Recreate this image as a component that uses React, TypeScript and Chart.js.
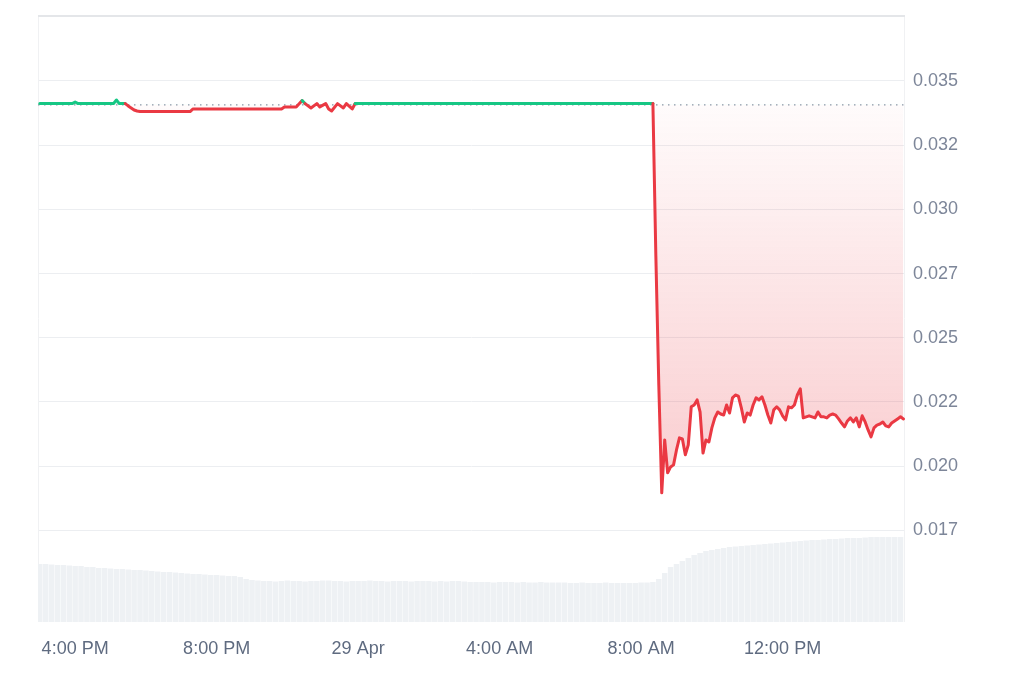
import { useEffect, useRef } from "react";
import { Chart, registerables } from "chart.js";

Chart.register(...registerables);

const GREEN = "#16c784";
const RED = "#ea3943";
const BASE_PRICE = 0.03407;
const FILL_STRONG_PRICE = 0.0215;

// price points (local time, 28 Apr 15:00 -> 29 Apr 15:25)
const priceTimes = [
  "15:00", "15:55", "16:00", "16:05", "17:05", "17:10", "17:15", "17:25", "17:30", "17:35",
  "17:40", "17:45", "17:50", "19:15", "19:20", "21:50", "21:55", "22:15", "22:25", "22:30",
  "22:40", "22:50", "22:55", "23:05", "23:10", "23:15", "23:25", "23:35", "23:40", "23:50",
  "23:55", "08:20", "08:25", "08:30", "08:35", "08:40", "08:45", "08:50", "08:55", "09:00",
  "09:05", "09:10", "09:15", "09:20", "09:25", "09:30", "09:35", "09:40", "09:45", "09:50",
  "09:55", "10:00", "10:05", "10:10", "10:15", "10:20", "10:25", "10:30", "10:35", "10:40",
  "10:45", "10:50", "10:55", "11:00", "11:05", "11:10", "11:15", "11:20", "11:25", "11:30",
  "11:35", "11:40", "11:45", "11:50", "11:55", "12:00", "12:05", "12:10", "12:15", "12:20",
  "12:25", "12:30", "12:35", "12:40", "12:45", "12:50", "12:55", "13:00", "13:05", "13:10",
  "13:15", "13:20", "13:25", "13:30", "13:35", "13:40", "13:45", "13:50", "13:55", "14:00",
  "14:05", "14:10", "14:15", "14:20", "14:25", "14:30", "14:35", "14:40", "14:45", "14:50",
  "14:55", "15:00", "15:05", "15:10", "15:15", "15:20", "15:25",
];
const priceValues = [
  0.03412, 0.03412, 0.03418, 0.03412, 0.03412, 0.03426, 0.03412, 0.03412, 0.03403, 0.03395,
  0.03387, 0.03383, 0.03381, 0.03381, 0.03391, 0.03391, 0.03399, 0.03399, 0.03424, 0.03412,
  0.03395, 0.03412, 0.03399, 0.03412, 0.03391, 0.03383, 0.03412, 0.03395, 0.03412, 0.03391,
  0.03412, 0.03412, 0.02819, 0.02316, 0.01896, 0.02102, 0.01974, 0.01997, 0.02005, 0.02063,
  0.0211, 0.02106, 0.02044, 0.02083, 0.02231, 0.02238, 0.02258, 0.02211, 0.02051, 0.02102,
  0.02094, 0.02149, 0.02188, 0.02211, 0.02203, 0.02199, 0.02238, 0.02207, 0.02266, 0.02277,
  0.02273, 0.02227, 0.02172, 0.02207, 0.02199, 0.02238, 0.02266, 0.02258, 0.0227, 0.02238,
  0.02199, 0.02168, 0.02219, 0.02231, 0.02219, 0.02196, 0.0218, 0.02231, 0.02227, 0.02238,
  0.02277, 0.02301, 0.02188, 0.02192, 0.02196, 0.02192, 0.02188, 0.02211, 0.02192, 0.02192,
  0.02188, 0.02199, 0.02203, 0.02199, 0.02184, 0.02168, 0.02153, 0.02176, 0.02188, 0.02172,
  0.02188, 0.02153, 0.02196, 0.02172, 0.02141, 0.02114, 0.02149, 0.0216, 0.02164, 0.02172,
  0.02157, 0.02153, 0.02168, 0.02176, 0.02184, 0.02192, 0.02184,
];

// volume, one bar every 10 minutes from 15:00 (millions)
const volumeStart = "15:00";
const volumeStepMinutes = 10;
const volumeValues = [
  5.8, 5.8, 5.75, 5.7, 5.7, 5.65, 5.6, 5.6, 5.5, 5.5, 5.4, 5.4, 5.35, 5.3, 5.3, 5.25, 5.2, 5.2, 5.15, 5.1,
  5.05, 5.0, 5.0, 4.95, 4.9, 4.85, 4.8, 4.8, 4.75, 4.7, 4.7, 4.65, 4.6, 4.6, 4.5, 4.3, 4.2, 4.15,
  4.1, 4.1, 4.05, 4.1, 4.15, 4.1, 4.1, 4.05, 4.1, 4.1, 4.15, 4.15, 4.1, 4.1, 4.05, 4.1, 4.1, 4.1, 4.15, 4.1,
  4.1, 4.05, 4.1, 4.1, 4.1, 4.05, 4.1, 4.1, 4.1, 4.05, 4.1, 4.05, 4.1, 4.1, 4.05, 4.0, 4.0,
  4.0, 4.0, 3.95, 4.0, 4.0, 4.0, 3.95, 4.0, 3.95, 3.95, 4.0, 3.95, 3.95, 3.95,
  3.95, 3.9, 3.9, 3.95, 3.9, 3.9, 3.9, 3.95, 3.9, 3.9, 3.9, 3.9, 3.9, 3.95, 3.95,
  4.0, 4.3, 4.9, 5.5, 5.8, 6.1, 6.4, 6.7, 6.9, 7.1, 7.2, 7.3, 7.4, 7.5, 7.55, 7.6, 7.65, 7.7, 7.75, 7.8,
  7.85, 7.9, 7.95, 8.0, 8.05, 8.1, 8.15, 8.2, 8.2, 8.25, 8.3, 8.3, 8.35, 8.4, 8.4, 8.4, 8.45, 8.5, 8.5, 8.5,
  8.5, 8.5, 8.5,
];
const VOLUME_AXIS_MAX = 60.7;

const yTickValues = [0.0175, 0.02, 0.0225, 0.025, 0.0275, 0.03, 0.0325, 0.035];
const Y_MIN = 0.01393;
const Y_MAX = 0.03757;

const xTickHours = [16, 20, 24, 28, 32, 36];
const xTickLabels = ["4:00 PM", "8:00 PM", "29 Apr", "4:00 AM", "8:00 AM", "12:00 PM"];
const X_MIN = 14.95;
const X_MAX = 39.46;

function parseHM(t: string): number {
  const [h, m] = t.split(":").map(Number);
  return h + m / 60;
}

function toHours(times: string[]): number[] {
  let offset = 0;
  let prev = -Infinity;
  return times.map((t) => {
    let v = parseHM(t) + offset;
    if (v < prev) {
      offset += 24;
      v += 24;
    }
    prev = v;
    return v;
  });
}

const framePlugin = {
  id: "frame",
  beforeDatasetsDraw(chart: any) {
    const { ctx, chartArea: a, scales } = chart;
    ctx.save();
    ctx.strokeStyle = "#f0f1f3";
    ctx.lineWidth = 1;
    ctx.beginPath();
    ctx.moveTo(a.left + 0.5, a.top);
    ctx.lineTo(a.left + 0.5, a.bottom);
    ctx.moveTo(a.right - 0.5, a.top);
    ctx.lineTo(a.right - 0.5, a.bottom);
    ctx.stroke();
    ctx.strokeStyle = "#e4e6e9";
    ctx.lineWidth = 2;
    ctx.beginPath();
    ctx.moveTo(a.left, a.top + 1);
    ctx.lineTo(a.right, a.top + 1);
    ctx.stroke();
    const y = scales.y.getPixelForValue(BASE_PRICE);
    ctx.strokeStyle = "#8f98a8";
    ctx.lineWidth = 1.2;
    ctx.setLineDash([1.5, 4.5]);
    ctx.beginPath();
    ctx.moveTo(a.left, y);
    ctx.lineTo(a.right, y);
    ctx.stroke();
    ctx.restore();
  },
};

export default function App() {
  const canvasRef = useRef<HTMLCanvasElement | null>(null);

  useEffect(() => {
    if (!canvasRef.current) return;
    Chart.defaults.font.family = "'Liberation Sans', Arial, Helvetica, sans-serif";

    const priceHours = toHours(priceTimes);
    const lineData = priceValues.map((v, i) => ({ x: priceHours[i], y: v }));
    const vStart = parseHM(volumeStart);
    const barData = volumeValues.map((v, i) => ({ x: vStart + (i * volumeStepMinutes) / 60, y: v }));

    const chart = new Chart(canvasRef.current, {
      type: "line",
      data: {
        datasets: [
          {
            type: "line",
            data: lineData,
            yAxisID: "y",
            order: 1,
            borderColor: RED,
            borderWidth: 3,
            pointRadius: 0,
            tension: 0,
            borderJoinStyle: "round",
            borderCapStyle: "round",
            segment: {
              borderColor: (s: any) =>
                s.p0.parsed.y >= BASE_PRICE && s.p1.parsed.y >= BASE_PRICE ? GREEN : RED,
            },
            fill: { value: BASE_PRICE, above: "rgba(22,199,132,0.12)" } as any,
            backgroundColor: (c: any) => {
              const { chart: ch } = c;
              const { ctx, chartArea, scales } = ch;
              if (!chartArea) return "rgba(234,57,67,0.1)";
              const y0 = scales.y.getPixelForValue(BASE_PRICE);
              const y1 = scales.y.getPixelForValue(FILL_STRONG_PRICE);
              const g = ctx.createLinearGradient(0, y0, 0, y1);
              g.addColorStop(0, "rgba(234,57,67,0.02)");
              g.addColorStop(1, "rgba(234,57,67,0.22)");
              return g;
            },
          } as any,
          {
            type: "bar",
            data: barData,
            yAxisID: "yVol",
            order: 2,
            backgroundColor: "#eef1f4",
            borderWidth: 0,
            barPercentage: 1,
            categoryPercentage: 0.93,
          } as any,
        ],
      },
      options: {
        animation: false,
        responsive: true,
        maintainAspectRatio: false,
        layout: { padding: { left: 30, top: 7, right: 0, bottom: 0 } },
        plugins: { legend: { display: false }, tooltip: { enabled: false } },
        scales: {
          x: {
            type: "linear",
            min: X_MIN,
            max: X_MAX,
            offset: false,
            grid: { display: false },
            border: { display: false },
            afterBuildTicks: (scale: any) => {
              scale.ticks = xTickHours.map((v) => ({ value: v }));
            },
            afterFit: (scale: any) => {
              scale.height = 46;
              scale.paddingLeft = 0;
              scale.paddingRight = 0;
            },
            ticks: {
              autoSkip: false,
              maxRotation: 0,
              minRotation: 0,
              padding: 8,
              color: "#5f6b80",
              font: { size: 18 },
              callback: (value: any) => {
                const i = xTickHours.indexOf(Number(value));
                return i >= 0 ? xTickLabels[i] : "";
              },
            },
          },
          y: {
            type: "linear",
            position: "right",
            min: Y_MIN,
            max: Y_MAX,
            grid: { color: "#eceef1", drawTicks: false },
            border: { display: false },
            afterBuildTicks: (scale: any) => {
              scale.ticks = yTickValues.map((v) => ({ value: v }));
            },
            afterFit: (scale: any) => {
              scale.width = 100;
              scale.paddingTop = 0;
              scale.paddingBottom = 0;
            },
            ticks: {
              padding: 8,
              color: "#7d8699",
              font: { size: 18 },
              callback: (value: any) => (Math.floor(Number(value) * 1000 + 1e-9) / 1000).toFixed(3),
            },
          },
          yVol: {
            type: "linear",
            display: false,
            min: 0,
            max: VOLUME_AXIS_MAX,
          },
        },
      } as any,
      plugins: [framePlugin],
    });

    return () => chart.destroy();
  }, []);

  return (
    <div style={{ width: 997, height: 660, position: "relative" }}>
      <canvas ref={canvasRef} />
    </div>
  );
}
